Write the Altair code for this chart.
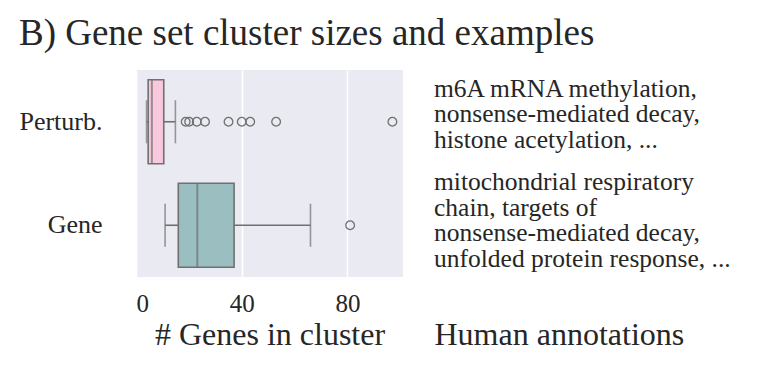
import altair as alt
import pandas as pd

# ---- data ----
categories = ["Perturb.", "Gene"]
lower_whisker = [4.0, 11.0]
q1 = [4.6, 16.0]
median = [6.0, 23.2]
q3 = [10.5, 37.1]
upper_whisker = [14.9, 66.0]
perturb_outliers = [18.8, 20.1, 23.0, 26.1, 35.0, 40.0, 43.2, 53.0, 97.0]
gene_outliers = [81.0]
annotations = [
    "m6A mRNA methylation,\nnonsense-mediated decay,\nhistone acetylation, ...",
    "mitochondrial respiratory\nchain, targets of\nnonsense-mediated decay,\nunfolded protein response, ...",
]
x_ticks = [0, 40, 80]
x_domain = [0, 101]

# ---- styles ----
box_colors = ["#F8C8DC", "#9BBFC1"]
LINE = "#707070"
BG = "#EAEAF2"
FONT = "Liberation Serif"
TEXT = "#262626"

summary = pd.DataFrame({
    "category": categories,
    "lower": lower_whisker,
    "q1": q1,
    "median": median,
    "q3": q3,
    "upper": upper_whisker,
})
outliers = pd.DataFrame({
    "category": [categories[0]] * len(perturb_outliers) + [categories[1]] * len(gene_outliers),
    "value": perturb_outliers + gene_outliers,
})
ann = pd.DataFrame({"category": categories, "annotation": annotations})

yscale = alt.Scale(domain=categories, paddingInner=0, paddingOuter=0)
y = alt.Y("category:N", scale=yscale,
          axis=alt.Axis(title=None, ticks=False, tickSize=0, domain=False, grid=False,
                        labelPadding=34, labelFontSize=26, labelFont=FONT, labelColor=TEXT))
xscale = alt.Scale(domain=x_domain, nice=False, zero=False)
xaxis = alt.Axis(values=x_ticks, title="# Genes in cluster", grid=True, gridColor="white",
                 gridWidth=1.5, domain=False, ticks=False, tickSize=0,
                 labelFontSize=25, labelFont=FONT, labelColor=TEXT, labelPadding=14,
                 titleFontSize=32, titleFont=FONT, titleFontWeight="normal", titleColor=TEXT,
                 titlePadding=3)

base = alt.Chart(summary)
whisk_lo = base.mark_rule(color=LINE, strokeWidth=1.6).encode(
    x=alt.X("lower:Q", scale=xscale, axis=xaxis), x2="q1:Q", y=y)
whisk_hi = base.mark_rule(color=LINE, strokeWidth=1.6).encode(x="q3:Q", x2="upper:Q", y=y)
cap_lo = base.mark_tick(color=LINE, size=43, thickness=1.6, orient="vertical").encode(x="lower:Q", y=y)
cap_hi = base.mark_tick(color=LINE, size=43, thickness=1.6, orient="vertical").encode(x="upper:Q", y=y)
box = base.mark_bar(size=84, stroke=LINE, strokeWidth=1.6, opacity=1).encode(
    x="q1:Q", x2="q3:Q", y=y,
    color=alt.Color("category:N", scale=alt.Scale(domain=categories, range=box_colors), legend=None))
med = base.mark_tick(color=LINE, size=84, thickness=2, orient="vertical").encode(x="median:Q", y=y)
pts = alt.Chart(outliers).mark_point(shape="circle", filled=False, size=75, color=LINE,
                                     strokeWidth=1.3, opacity=1).encode(x="value:Q", y=y)

left = alt.layer(whisk_lo, whisk_hi, cap_lo, cap_hi, box, med, pts).properties(
    width=267, height=207, view=alt.ViewBackground(fill=BG, stroke=None))

right_x = alt.XDatum(0, type="quantitative", scale=alt.Scale(domain=[0, 1], nice=False),
                     axis=alt.Axis(values=[0], labelOpacity=0, labelAlign="left", grid=False,
                                   domain=False, ticks=False, tickSize=0,
                                   labelFontSize=25, labelFont=FONT, labelPadding=14,
                                   title="Human annotations", titleAnchor="start", titleAlign="left",
                                   titleFontSize=32, titleFont=FONT, titleFontWeight="normal",
                                   titleColor=TEXT, titlePadding=3))
right_y = alt.Y("category:N", scale=yscale, axis=None)
text_base = alt.Chart(ann)
txt_style = dict(align="left", baseline="alphabetic", lineBreak="\n", font=FONT, fontSize=25.5,
                 lineHeight=25.5, color=TEXT)
txt_top = text_base.mark_text(dy=-25, **txt_style).encode(
    x=right_x, y=right_y, text="annotation:N").transform_filter(
    alt.datum.category == categories[0])
txt_bot = text_base.mark_text(dy=-35, **txt_style).encode(
    x=right_x, y=right_y, text="annotation:N").transform_filter(
    alt.datum.category == categories[1])
right = alt.layer(txt_top, txt_bot).properties(
    width=310, height=207, view=alt.ViewBackground(stroke=None))

chart = alt.hconcat(left, right, spacing=31).properties(
    title=alt.TitleParams("B) Gene set cluster sizes and examples", anchor="start", frame="bounds",
                          fontSize=37, font=FONT, fontWeight="normal", color=TEXT,
                          baseline="alphabetic", offset=-12),
    padding={"left": 10, "top": 7, "right": 5, "bottom": 5},
).configure_view(stroke=None)

chart.save("out.html", embed_options={"renderer": "svg", "actions": False})
